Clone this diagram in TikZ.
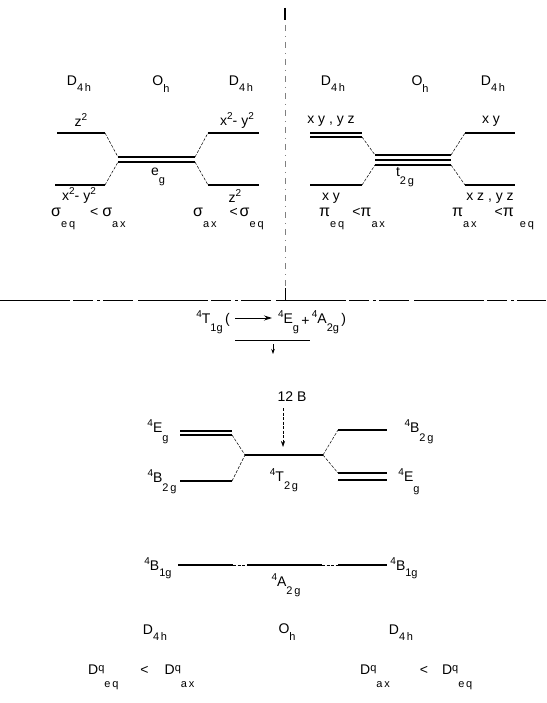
\documentclass[tikz,border=0pt]{standalone}
\usepackage{fontspec}
\setmainfont{Liberation Sans}
\usetikzlibrary{arrows.meta}
\newcommand{\dn}[2]{\raisebox{-#1}{\fontsize{11}{12}\selectfont #2}}
\newcommand{\up}[1]{\raisebox{6pt}{\fontsize{10}{11}\selectfont #1}}
\newcommand{\gk}[1]{{\fontsize{16}{16}\selectfont #1}}
\newcommand{\qq}{\raisebox{3pt}{\fontsize{11}{11}\selectfont q}}
\begin{document}
\begin{tikzpicture}[x=1pt,y=-1pt,
  lvl/.style={line width=1.1pt},
  conn/.style={line width=0.5pt, dash pattern=on 3pt off 1.5pt},
  axis/.style={line width=1pt, dash pattern=on 70pt off 3pt on 20pt off 4pt on 3pt off 3pt on 30pt off 5pt},
  lbl/.style={font=\fontsize{14}{16}\selectfont, inner sep=0pt},
  arr/.style={-{Stealth[length=8pt,width=5pt]}, line width=0.8pt}]
\useasboundingbox (0,0) rectangle (546,703);

% ---------- frame lines ----------
\coordinate (vtop) at (285,8);
\coordinate (corner) at (285,300);
\coordinate (hl) at (0,300);
\coordinate (hr) at (546,300);
\draw[line width=0.4pt, gray, dash pattern=on 6pt off 5pt on 1pt off 5pt] (vtop) -- (corner);
\draw[line width=1.4pt] (vtop) -- ++(0,12);
\draw[line width=1pt] (corner) -- ++(0,-12);
\draw[axis] (hl) -- (hr);

% ---------- top-left panel (sigma) ----------
\node[lbl] (tl1) at (79,84) {D\dn{6pt}{4\,h}};
\node[lbl] (tl2) at (161,84) {O\dn{7pt}{h}};
\node[lbl] (tl3) at (241,84) {D\dn{6pt}{4\,h}};

\coordinate (a1) at (57,133);  \coordinate (a2) at (105,133);
\coordinate (b1) at (55,185);  \coordinate (b2) at (105,185);
\coordinate (c1) at (118,157); \coordinate (c2) at (195,157);
\coordinate (d1) at (118,162); \coordinate (d2) at (195,162);
\coordinate (e1) at (208,133); \coordinate (e2) at (259,133);
\coordinate (f1) at (208,185); \coordinate (f2) at (259,185);
\draw[lvl] (a1) -- (a2);
\draw[lvl] (b1) -- (b2);
\draw[lvl] (c1) -- (c2);
\draw[lvl] (d1) -- (d2);
\draw[lvl] (e1) -- (e2);
\draw[lvl] (f1) -- (f2);
\draw[conn] (a2) -- (c1);
\draw[conn] (b2) -- (d1);
\draw[conn] (c2) -- (e1);
\draw[conn] (d2) -- (f1);

\node[lbl] (l1) at (81,120) {z\up{2}};
\node[lbl] (l2) at (237,120) {x\up{2}- y\up{2}};
\node[lbl] (l3) at (158,177) {e\dn{8pt}{g}};
\node[lbl] (l4) at (79,195) {x\up{2}- y\up{2}};
\node[lbl] (l5) at (235,196) {z\up{2}};
\node[lbl, anchor=west] (s1) at (51,219) {\gk{σ}\dn{11pt}{e\,q}\hspace{15pt}<\hspace{4pt}\gk{σ}\dn{11pt}{a\,x}};
\node[lbl, anchor=west] (s2) at (193,219) {\gk{σ}\dn{11pt}{a\,x}\hspace{13pt}<\hspace{2pt}\gk{σ}\dn{11pt}{e\,q}};

% ---------- top-right panel (pi) ----------
\node[lbl] (tr1) at (333,84) {D\dn{6pt}{4\,h}};
\node[lbl] (tr2) at (420,84) {O\dn{7pt}{h}};
\node[lbl] (tr3) at (493,84) {D\dn{6pt}{4\,h}};

\coordinate (g1) at (310,133); \coordinate (g2) at (362,133);
\coordinate (h1) at (310,137); \coordinate (h2) at (362,137);
\coordinate (i1) at (310,185); \coordinate (i2) at (362,185);
\coordinate (j1) at (375,155); \coordinate (j2) at (451,155);
\coordinate (k1) at (375,160); \coordinate (k2) at (451,160);
\coordinate (m1) at (375,165); \coordinate (m2) at (451,165);
\coordinate (n1) at (465,133); \coordinate (n2) at (515,133);
\coordinate (o1) at (465,185); \coordinate (o2) at (515,185);
\draw[lvl] (g1) -- (g2);
\draw[lvl] (h1) -- (h2);
\draw[lvl] (i1) -- (i2);
\draw[lvl] (j1) -- (j2);
\draw[lvl] (k1) -- (k2);
\draw[lvl] (m1) -- (m2);
\draw[lvl] (n1) -- (n2);
\draw[lvl] (o1) -- (o2);
\draw[conn] (h2) -- (j1);
\draw[conn] (i2) -- (m1);
\draw[conn] (j2) -- (n1);
\draw[conn] (m2) -- (o1);

\node[lbl] (r1) at (331,121) {x y , y z};
\node[lbl] (r2) at (491,121) {x y};
\node[lbl] (r3) at (405,177) {t\dn{8pt}{2\,g}};
\node[lbl] (r4) at (331,198) {x y};
\node[lbl] (r5) at (490,198) {x z , y z};
\node[lbl, anchor=west] (p1) at (319,219) {\gk{π}\dn{11pt}{e\,q}\hspace{8pt}<\gk{π}\dn{11pt}{a\,x}};
\node[lbl, anchor=west] (p2) at (452,219) {\gk{π}\dn{11pt}{a\,x}\hspace{18pt}<\gk{π}\hspace{6pt}\dn{11pt}{e\,q}};

% ---------- reaction ----------
\node[lbl] (rx1) at (213,322) {\up{4}T\dn{8pt}{1g}\,(};
\coordinate (ra1) at (235,318); \coordinate (ra2) at (272,318);
\draw[arr] (ra1) -- (ra2);
\node[lbl] (rx2) at (312,322) {\up{4}E\dn{8pt}{g}\,\raisebox{-2pt}{+}\,\up{4}A\dn{8pt}{2g}\,)};
\coordinate (rl1) at (235,340); \coordinate (rl2) at (310,340);
\draw[line width=0.9pt] (rl1) -- (rl2);
\coordinate (rt1) at (273,344); \coordinate (rt2) at (273,354);
\draw[-{Stealth[length=5pt,width=3.5pt]}, line width=0.6pt] (rt1) -- (rt2);

% ---------- quartet splitting ----------
\node[lbl] (b12) at (292,397) {12 B};
\coordinate (ar1) at (283,408); \coordinate (ar2) at (283,447);
\draw[-{Stealth[length=6pt,width=4pt]}, line width=0.6pt, dash pattern=on 3pt off 1.5pt] (ar1) -- (ar2);

\coordinate (q1) at (180,431); \coordinate (q2) at (232,431);
\coordinate (q3) at (180,435); \coordinate (q4) at (232,435);
\coordinate (q5) at (180,481); \coordinate (q6) at (232,481);
\coordinate (t1) at (245,455); \coordinate (t2) at (323,455);
\coordinate (u1) at (338,430); \coordinate (u2) at (387,430);
\coordinate (u3) at (338,473); \coordinate (u4) at (387,473);
\coordinate (u5) at (338,480); \coordinate (u6) at (387,480);
\draw[lvl] (q1) -- (q2);
\draw[lvl] (q3) -- (q4);
\draw[lvl] (q5) -- (q6);
\draw[lvl] (t1) -- (t2);
\draw[lvl] (u1) -- (u2);
\draw[lvl] (u3) -- (u4);
\draw[lvl] (u5) -- (u6);
\draw[conn] (q4) -- (t1);
\draw[conn] (q6) -- (t1);
\draw[conn] (t2) -- (u1);
\draw[conn] (t2) -- (u3);

\node[lbl] (el) at (158,432) {\up{4}E\dn{9pt}{g}};
\node[lbl] (bl) at (162,482) {\up{4}B\dn{9pt}{2\,g}};
\node[lbl] (tt) at (284,480) {\up{4}T\dn{8pt}{2\,g}};
\node[lbl] (br) at (419,432) {\up{4}B\dn{9pt}{2\,g}};
\node[lbl] (er) at (409,482) {\up{4}E\dn{11pt}{g}};

% ---------- A2g level ----------
\coordinate (v1) at (178,565); \coordinate (v2) at (233,565);
\coordinate (v3) at (247,565); \coordinate (v4) at (322,565);
\coordinate (v5) at (338,565); \coordinate (v6) at (387,565);
\draw[lvl] (v1) -- (v2);
\draw[conn] (v2) -- (v3);
\draw[lvl] (v3) -- (v4);
\draw[conn] (v4) -- (v5);
\draw[lvl] (v5) -- (v6);
\node[lbl] (bg1) at (158,568) {\up{4}B\dn{6pt}{1g}};
\node[lbl] (bg2) at (404,568) {\up{4}B\dn{6pt}{1g}};
\node[lbl] (ag) at (286,585) {\up{4}A\dn{8pt}{2\,g}};

% ---------- bottom labels ----------
\node[lbl] (bd1) at (155,633) {D\dn{6pt}{4\,h}};
\node[lbl] (bd2) at (287,632) {O\dn{7pt}{h}};
\node[lbl] (bd3) at (401,633) {D\dn{6pt}{4\,h}};
\node[lbl, anchor=west] (dq1) at (88,677) {D\qq\dn{13pt}{e\,q}\hspace{22pt}<\hspace{16pt}D\qq\dn{13pt}{a\,x}};
\node[lbl, anchor=west] (dq2) at (360,677) {D\qq\dn{13pt}{a\,x}\hspace{30pt}<\hspace{14pt}D\qq\dn{13pt}{e\,q}};
\end{tikzpicture}
\end{document}
